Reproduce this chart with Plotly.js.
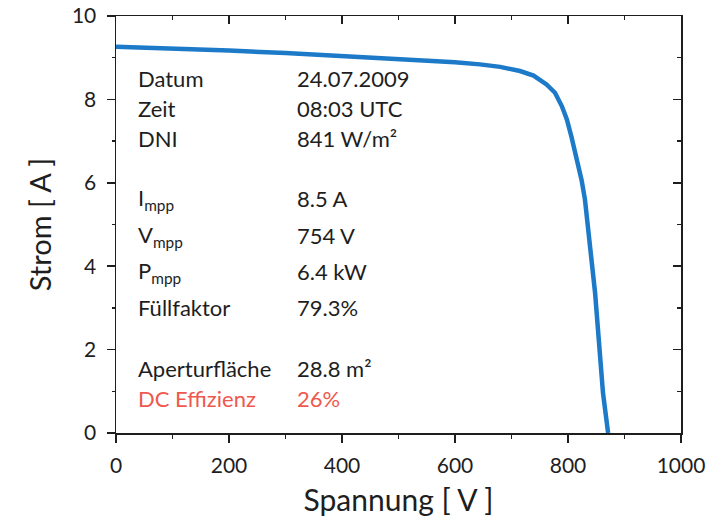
<!DOCTYPE html>
<html>
<head>
<meta charset="utf-8">
<script src="https://cdn.plot.ly/plotly-3.0.1.min.js"></script>
<style>html,body{margin:0;padding:0;background:#fff;}#chart{width:723px;height:528px;}</style>
</head>
<body>
<div id="chart"></div>
<script>
// ---- data ----
var voltage = [0, 100, 200, 300, 400, 500, 600, 644, 680, 715, 739, 762, 777, 789, 798, 806, 815, 824, 830, 839, 848, 855, 862, 871];
var current = [9.26, 9.22, 9.17, 9.11, 9.04, 8.97, 8.89, 8.84, 8.78, 8.68, 8.57, 8.36, 8.16, 7.84, 7.52, 7.11, 6.63, 6.07, 5.60, 4.55, 3.35, 2.15, 0.95, 0.0];
var xTicks = [0, 200, 400, 600, 800, 1000];
var yTicks = [0, 2, 4, 6, 8, 10];
var infoLabels = ["Datum", "Zeit", "DNI", "I<sub>mpp</sub>", "V<sub>mpp</sub>", "P<sub>mpp</sub>", "Füllfaktor", "Aperturfläche", "DC Effizienz"];
var infoValues = ["24.07.2009", "08:03 UTC", "841 W/m²", "8.5 A", "754 V", "6.4 kW", "79.3%", "28.8 m²", "26%"];
var infoRowY = [8.5, 7.78, 7.06, 5.62, 4.73, 3.87, 3.0, 1.54, 0.82];
var infoHighlight = [false, false, false, false, false, false, false, false, true];

// ---- styles ----
var FONT = "Lato, 'Open Sans', sans-serif";
var INK = "#1e1e1e";
var RED = "rgb(240,88,78)";
var BLUE = "rgb(28,122,200)";

var annotations = [];
for (var i = 0; i < infoLabels.length; i++) {
  var col = infoHighlight[i] ? RED : INK;
  annotations.push({xref: "x", yref: "y", x: 36, y: infoRowY[i], text: infoLabels[i], showarrow: false,
    xanchor: "left", yanchor: "middle", font: {family: FONT, size: 22, color: col}});
  annotations.push({xref: "x", yref: "y", x: 316, y: infoRowY[i], text: infoValues[i], showarrow: false,
    xanchor: "left", yanchor: "middle", font: {family: FONT, size: 22, color: col}});
}

var traces = [
  {x: voltage, y: current, type: "scatter", mode: "lines", line: {color: BLUE, width: 4.5, shape: "linear"},
   xaxis: "x", yaxis: "y", showlegend: false, hoverinfo: "x+y"},
  {x: voltage, y: current, type: "scatter", mode: "lines", line: {color: "rgba(0,0,0,0)", width: 0},
   xaxis: "x2", yaxis: "y2", showlegend: false, hoverinfo: "skip"}
];

var axisCommon = {showgrid: false, zeroline: false, showline: true, linecolor: INK, linewidth: 1.5,
  tickcolor: INK, tickwidth: 1.5, ticklen: 8, tickfont: {family: FONT, size: 21, color: INK}};

var layout = {
  width: 723, height: 528,
  margin: {l: 116, r: 42, t: 16, b: 95, pad: 0},
  paper_bgcolor: "#fff", plot_bgcolor: "#fff",
  font: {family: FONT, color: INK},
  showlegend: false,
  xaxis: Object.assign({}, axisCommon, {
    range: [0, 1000], tickvals: xTicks, ticktext: xTicks.map(String), ticks: "outside",
    minor: {dtick: 100, ticks: "outside", ticklen: 4, tickcolor: INK, tickwidth: 1.5},
    ticklabelstandoff: 5,
    title: {text: "Spannung [ V ]", font: {family: FONT, size: 30, color: INK}, standoff: 14}
  }),
  yaxis: Object.assign({}, axisCommon, {
    range: [0, 10], tickvals: yTicks, ticktext: yTicks.map(String), ticks: "outside",
    minor: {dtick: 1, ticks: "outside", ticklen: 3, tickcolor: INK, tickwidth: 1.5},
    ticklabelstandoff: 6,
    title: {text: "Strom [ A ]", font: {family: FONT, size: 29, color: INK}, standoff: 12}
  }),
  xaxis2: Object.assign({}, axisCommon, {
    overlaying: "x", side: "top", anchor: "y2", range: [0, 1000], tickvals: xTicks, ticks: "inside",
    showticklabels: false,
    minor: {dtick: 100, ticks: "inside", ticklen: 4, tickcolor: INK, tickwidth: 1.5}
  }),
  yaxis2: Object.assign({}, axisCommon, {
    overlaying: "y", side: "right", anchor: "x2", range: [0, 10], tickvals: yTicks, ticks: "inside",
    showticklabels: false,
    minor: {dtick: 1, ticks: "inside", ticklen: 4, tickcolor: INK, tickwidth: 1.5}
  }),
  annotations: annotations
};

Plotly.newPlot("chart", traces, layout, {displayModeBar: false, staticPlot: true});
</script>
</body>
</html>
